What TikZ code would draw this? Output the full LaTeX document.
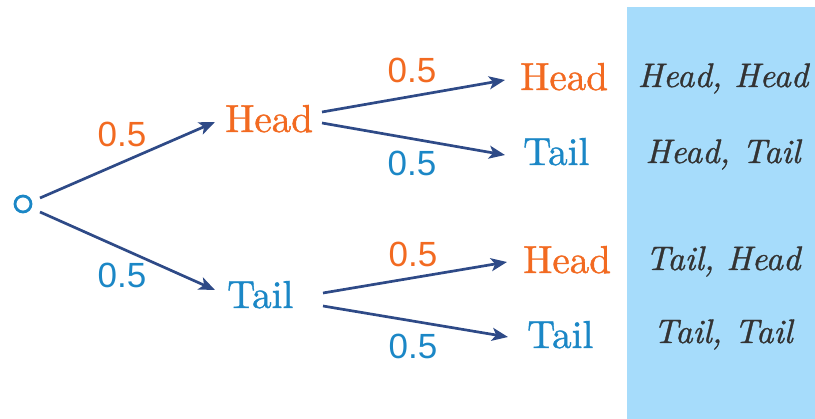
\documentclass[tikz,border=0pt]{standalone}
\usepackage{fontspec}
\newfontfamily\numfont{Liberation Sans}
\newfontfamily\outfont{lmroman10-regular}[Extension=.otf, FakeBold=1.0]
\newfontfamily\resfont{lmroman10-italic}[Extension=.otf, FakeBold=1.0]
\usetikzlibrary{arrows.meta,calc}
\definecolor{orng}{HTML}{F26A21}
\definecolor{blu}{HTML}{1B87C6}
\definecolor{navy}{HTML}{2E4A87}
\definecolor{panel}{HTML}{A6DCFB}
\definecolor{ink}{HTML}{333333}
\tikzset{
  arr/.style={draw=navy, line width=2.7pt, -{Stealth[length=16pt,width=13pt,inset=4pt]}},
  outc/.style={inner sep=0pt, anchor=base west, font=\outfont\fontsize{39}{41}\selectfont},
  prob/.style={inner sep=0pt, anchor=center, font=\numfont\fontsize{35}{37}\selectfont},
  res/.style={inner sep=0pt, anchor=base, text=ink, font=\resfont\fontsize{34}{36}\selectfont},
}
\begin{document}
\begin{tikzpicture}[x=1pt,y=-1pt]
\useasboundingbox (0,0) rectangle (815,419);
\fill[panel] (627,7) rectangle (815,419);
% nodes
\node[circle, draw=blu, line width=2.8pt, minimum size=16pt, inner sep=0pt] (root) at (23,204) {};
\node[outc, text=orng] (h1) at (225,132) {Head};
\node[outc, text=blu] (t1) at (227,308) {Tail};
\node[outc, text=orng] (hh) at (520,90) {Head};
\node[outc, text=blu] (ht) at (523,165) {Tail};
\node[outc, text=orng] (th) at (523,273) {Head};
\node[outc, text=blu] (tt) at (527,348) {Tail};
% probabilities
\node[prob, text=orng] (p1) at (122,134) {0.5};
\node[prob, text=blu] (p2) at (122,275) {0.5};
\node[prob, text=orng] (p3) at (412,70) {0.5};
\node[prob, text=blu] (p4) at (412,163) {0.5};
\node[prob, text=orng] (p5) at (413,254) {0.5};
\node[prob, text=blu] (p6) at (413,346) {0.5};
% results
\node[res] (r1) at (723,87) {Head, Head};
\node[res] (r2) at (723,163) {Head, Tail};
\node[res] (r3) at (723,270) {Tail, Head};
\node[res] (r4) at (723,343) {Tail, Tail};
% arrows
\draw[arr] ($(root.center)+(17,-6)$) -- ($(h1.base west)+(-10,-10)$);
\draw[arr] ($(root.center)+(17,8)$) -- ($(t1.base west)+(-12,-18)$);
\draw[arr] ($(h1.base west)+(97,-20)$) -- ($(hh.base west)+(-15,-10)$);
\draw[arr] ($(h1.base west)+(97,-9)$) -- ($(ht.base west)+(-18,-10)$);
\draw[arr] ($(t1.base west)+(96,-15)$) -- ($(th.base west)+(-16,-11)$);
\draw[arr] ($(t1.base west)+(96,-2)$) -- ($(tt.base west)+(-19,-11)$);
\end{tikzpicture}
\end{document}
